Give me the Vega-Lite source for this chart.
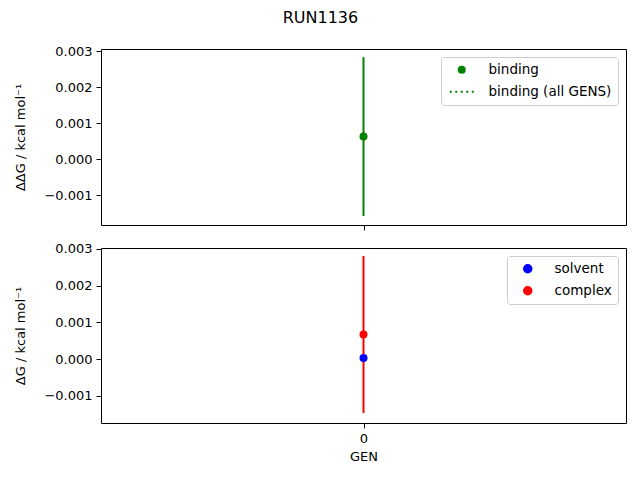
{
  "$schema": "https://vega.github.io/schema/vega-lite/v6.json",
  "padding": {"left": 14, "top": 9, "right": 1, "bottom": 5},
  "background": "white",
  "title": {"text": "RUN1136", "fontSize": 16, "font": "DejaVu Sans", "fontWeight": "normal", "anchor": "middle", "offset": 19, "dx": 0, "color": "black"},
  "config": {
    "font": "DejaVu Sans",
    "view": {"stroke": "black", "strokeWidth": 1},
    "axis": {"labelFontSize": 13, "titleFontSize": 13, "titleFontWeight": "normal", "labelColor": "black", "titleColor": "black", "tickColor": "black", "grid": false, "tickSize": 5, "labelPadding": 4, "domain": false, "titleFont": "DejaVu Sans", "labelFont": "DejaVu Sans"},
    "legend": {"orient": "top-right", "offset": 8, "padding": 6, "strokeColor": "#cccccc", "fillColor": "rgba(255,255,255,0.8)", "cornerRadius": 3, "labelFontSize": 13.5, "labelColor": "black", "rowPadding": 7, "symbolSize": 64, "symbolOffset": 8, "labelOffset": 20, "labelFont": "DejaVu Sans"}
  },
  "bounds": "flush",
  "spacing": 23,
  "resolve": {"scale": {"color": "independent", "shape": "independent", "x": "independent", "y": "independent"}, "legend": {"color": "independent", "shape": "independent"}},
  "vconcat": [
    {
      "width": 525,
      "height": 176,
      "data": {"values": [{"GEN": 0, "label": "binding", "value": 0.000625, "lo": -0.00158, "hi": 0.00283}]},
      "layer": [
        {
          "mark": {"type": "rule", "strokeWidth": 2, "color": "green"},
          "encoding": {
            "x": {"field": "GEN", "type": "quantitative", "scale": {"domain": [-1, 1], "nice": false, "zero": false}, "axis": {"values": [0], "labels": false, "title": null}},
            "y": {"field": "lo", "type": "quantitative", "scale": {"domain": [-0.001833, 0.003056], "nice": false, "zero": false}, "axis": {"values": [-0.001, 0, 0.001, 0.002, 0.003], "format": ".3f", "title": "ΔΔG / kcal mol⁻¹", "titlePadding": 16}},
            "y2": {"field": "hi"}
          }
        },
        {
          "mark": {"type": "point", "filled": true, "size": 64, "opacity": 1},
          "encoding": {
            "x": {"field": "GEN", "type": "quantitative"},
            "y": {"field": "value", "type": "quantitative"},
            "color": {"field": "label", "type": "nominal", "scale": {"domain": ["binding", "binding (all GENS)"], "range": ["green", "green"]}, "legend": {"title": null}},
            "shape": {"field": "label", "type": "nominal", "scale": {"domain": ["binding", "binding (all GENS)"], "range": ["circle", "M-3,-0.25h0.5v0.5h-0.5Z M-1.625,-0.25h0.5v0.5h-0.5Z M-0.25,-0.25h0.5v0.5h-0.5Z M1.125,-0.25h0.5v0.5h-0.5Z M2.5,-0.25h0.5v0.5h-0.5Z"]}, "legend": {"title": null}}
          }
        }
      ]
    },
    {
      "width": 525,
      "height": 175,
      "data": {"values": [
        {"GEN": 0, "label": "solvent", "value": 0.00003},
        {"GEN": 0, "label": "complex", "value": 0.00067, "lo": -0.00147, "hi": 0.00281}
      ]},
      "layer": [
        {
          "mark": {"type": "rule", "strokeWidth": 2},
          "encoding": {
            "x": {"field": "GEN", "type": "quantitative", "scale": {"domain": [-1, 1], "nice": false, "zero": false}, "axis": {"values": [0], "format": "d", "title": "GEN", "titlePadding": 5}},
            "y": {"field": "lo", "type": "quantitative", "scale": {"domain": [-0.001744, 0.003027], "nice": false, "zero": false}, "axis": {"values": [-0.001, 0, 0.001, 0.002, 0.003], "format": ".3f", "title": "ΔG / kcal mol⁻¹", "titlePadding": 16}},
            "y2": {"field": "hi"},
            "color": {"field": "label", "type": "nominal", "scale": {"domain": ["solvent", "complex"], "range": ["blue", "red"]}, "legend": {"title": null}}
          }
        },
        {
          "mark": {"type": "point", "filled": true, "size": 64, "opacity": 1},
          "encoding": {
            "x": {"field": "GEN", "type": "quantitative"},
            "y": {"field": "value", "type": "quantitative"},
            "color": {"field": "label", "type": "nominal", "scale": {"domain": ["solvent", "complex"], "range": ["blue", "red"]}, "legend": {"title": null}}
          }
        }
      ]
    }
  ]
}
